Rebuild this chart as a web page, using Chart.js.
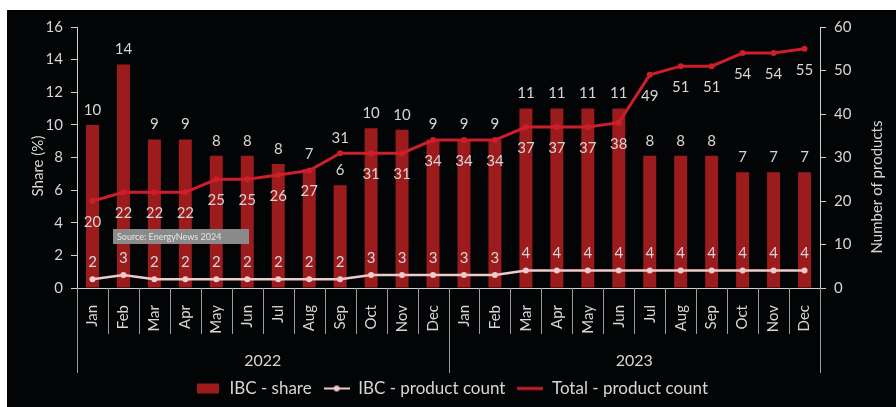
<!DOCTYPE html>
<html>
<head>
<meta charset="utf-8">
<script src="https://cdn.jsdelivr.net/npm/chart.js@4/dist/chart.umd.min.js"></script>
<style>
  html, body { margin: 0; padding: 0; background: #fff; }
  #wrap { position: absolute; left: 7px; top: 10px; width: 889px; height: 397px; background: #030405; }
</style>
</head>
<body>
<div id="wrap"><canvas id="chart"></canvas></div>
<script>
// ---- data ----
const months = ['Jan', 'Feb', 'Mar', 'Apr', 'May', 'Jun', 'Jul', 'Aug', 'Sep', 'Oct', 'Nov', 'Dec',
                'Jan', 'Feb', 'Mar', 'Apr', 'May', 'Jun', 'Jul', 'Aug', 'Sep', 'Oct', 'Nov', 'Dec'];
const years = ['2022', '2023'];
const ibcShare = [10.0, 13.7, 9.1, 9.1, 8.1, 8.1, 7.6, 7.3, 6.3, 9.8, 9.7, 9.1,
                  9.1, 9.1, 11.0, 11.0, 11.0, 11.0, 8.1, 8.1, 8.1, 7.1, 7.1, 7.1];
const ibcCount = [2, 3, 2, 2, 2, 2, 2, 2, 2, 3, 3, 3,
                  3, 3, 4, 4, 4, 4, 4, 4, 4, 4, 4, 4];
const totalCount = [20, 22, 22, 22, 25, 25, 26, 27, 31, 31, 31, 34,
                    34, 34, 37, 37, 37, 38, 49, 51, 51, 54, 54, 55];
const shareTicks = [0, 16, 2];   // min, max, step
const countTicks = [0, 60, 10];
const totalLabelAbove = [8];     // Sep 2022 label sits above the line
const sourceNote = 'Source: EnergyNews 2024';

// colours
const TEXT = '#d6d6d6';
const BAR_RED = '#9c1b1d';
const LINE_RED = '#cc1f2b';
const LINE_PINK = '#efcaca';
const FONT = 'Lato, "Open Sans", sans-serif';

// small legend symbols
function legendSymbol(draw) {
    let c = document.createElement('canvas');
    c.width = 26; c.height = 12;
    draw(c.getContext('2d'));
    return c;
}
const symShare = legendSymbol(g => { g.fillStyle = BAR_RED; g.fillRect(2, 1, 22, 10); });
const symIbc = legendSymbol(g => {
    g.strokeStyle = LINE_PINK; g.lineWidth = 2;
    g.beginPath(); g.moveTo(0, 6); g.lineTo(26, 6); g.stroke();
    g.fillStyle = LINE_PINK; g.beginPath(); g.arc(13, 6, 3, 0, Math.PI * 2); g.fill();
});
const symTotal = legendSymbol(g => {
    g.strokeStyle = LINE_RED; g.lineWidth = 3;
    g.beginPath(); g.moveTo(0, 6); g.lineTo(26, 6); g.stroke();
});

// --------------- extra drawing: labels, separators, titles ---------------
const extras = {
    id: 'extras',
    afterDatasetsDraw(chart) {
        let ctx = chart.ctx;
        let area = chart.chartArea;
        ctx.save();
        // source note box
        ctx.fillStyle = '#8a8a8a';
        ctx.fillRect(area.left + 36, area.top + 202, 136, 15);
        ctx.fillStyle = '#e6e6e6';
        ctx.font = '9px ' + FONT;
        ctx.textAlign = 'left';
        ctx.textBaseline = 'middle';
        ctx.fillText(sourceNote, area.left + 40, area.top + 210);

        // data labels
        ctx.font = '15px ' + FONT;
        ctx.fillStyle = TEXT;
        ctx.textAlign = 'center';
        chart.data.datasets.forEach((ds, i) => {
            let meta = chart.getDatasetMeta(i);
            meta.data.forEach((el, j) => {
                let y;
                if (ds.type === 'bar') {
                    y = el.y - 15;
                } else if (ds.label === 'IBC - product count') {
                    y = el.y - 17;
                } else {
                    y = totalLabelAbove.includes(j) ? el.y - 15 : el.y + 21;
                }
                ctx.fillText(String(Math.round(ds.data[j])), el.x, y);
            });
        });
        ctx.restore();
    },
    afterDraw(chart) {
        let ctx = chart.ctx;
        let area = chart.chartArea;
        let xs = chart.scales.x;
        let n = months.length;
        let step = (xs.right - xs.left) / n;
        ctx.save();
        ctx.strokeStyle = '#9c9c9c';
        ctx.lineWidth = 1;
        for (let i = 0; i <= n; i++) {
            let x = Math.round(xs.left + i * step) + 0.5;
            let len = (i % 12 === 0) ? 85 : 46;
            ctx.beginPath();
            ctx.moveTo(x, xs.top);
            ctx.lineTo(x, xs.top + len);
            ctx.stroke();
        }
        // year group labels
        ctx.fillStyle = TEXT;
        ctx.font = '16px ' + FONT;
        ctx.textAlign = 'center';
        ctx.textBaseline = 'middle';
        years.forEach((yr, k) => {
            let cx = xs.left + (k * 12 + 6) * step;
            ctx.fillText(yr, cx, xs.top + 73);
        });
        // axis titles
        ctx.font = '15px ' + FONT;
        ctx.save();
        ctx.translate(area.left - 39, area.top + 139);
        ctx.rotate(-Math.PI / 2);
        ctx.fillText('Share (%)', 0, 0);
        ctx.restore();
        ctx.save();
        ctx.translate(area.right + 57, area.top + 160);
        ctx.rotate(-Math.PI / 2);
        ctx.fillText('Number of products', 0, 0);
        ctx.restore();
        ctx.restore();
    }
};

Chart.defaults.font.family = FONT;
Chart.defaults.color = TEXT;

let ctx = document.getElementById('chart');
let chart = new Chart(ctx, {
    type: 'bar',
    data: {
        labels: months,
        datasets: [
            {
                type: 'bar',
                label: 'IBC - share',
                data: ibcShare,
                backgroundColor: BAR_RED,
                yAxisID: 'y',
                categoryPercentage: 1,
                barPercentage: 0.42,
                order: 3
            },
            {
                type: 'line',
                label: 'IBC - product count',
                data: ibcCount,
                borderColor: LINE_PINK,
                backgroundColor: LINE_PINK,
                borderWidth: 2.5,
                pointRadius: 3,
                pointBorderWidth: 0,
                tension: 0,
                yAxisID: 'y1',
                order: 1
            },
            {
                type: 'line',
                label: 'Total - product count',
                data: totalCount,
                borderColor: LINE_RED,
                backgroundColor: LINE_RED,
                borderWidth: 3,
                pointRadius: 3,
                pointBorderWidth: 0,
                tension: 0,
                yAxisID: 'y1',
                order: 2
            }
        ]
    },
    options: {
        responsive: true,
        maintainAspectRatio: false,
        animation: false,
        layout: { padding: { top: 14, bottom: 0, left: 0, right: 0 } },
        scales: {
            x: {
                grid: { display: false },
                border: { display: true, color: '#cfcfcf' },
                ticks: {
                    minRotation: 90,
                    maxRotation: 90,
                    padding: 9,
                    font: { size: 15 },
                    color: TEXT,
                    autoSkip: false
                },
                afterFit: function(scale) { scale.height = 80; }
            },
            y: {
                position: 'left',
                min: shareTicks[0],
                max: shareTicks[1],
                ticks: { stepSize: shareTicks[2], font: { size: 15 }, color: TEXT, padding: 8 },
                grid: { drawOnChartArea: false, tickLength: 6, color: '#cfcfcf' },
                border: { display: true, color: '#cfcfcf' },
                afterFit: function(scale) { scale.width = 70; }
            },
            y1: {
                position: 'right',
                min: countTicks[0],
                max: countTicks[1],
                ticks: { stepSize: countTicks[2], font: { size: 15 }, color: TEXT, padding: 8 },
                grid: { drawOnChartArea: false, tickLength: 6, color: '#cfcfcf' },
                border: { display: true, color: '#cfcfcf' },
                afterFit: function(scale) { scale.width = 76; }
            }
        },
        plugins: {
            legend: {
                position: 'bottom',
                labels: {
                    color: TEXT,
                    font: { size: 17 },
                    usePointStyle: true,
                    pointStyleWidth: 26,
                    boxHeight: 12,
                    padding: 12,
                    sort: (a, b) => a.datasetIndex - b.datasetIndex,
                    generateLabels: function(chart) {
                        let items = Chart.defaults.plugins.legend.labels.generateLabels(chart);
                        let syms = [symShare, symIbc, symTotal];
                        items.forEach(it => { it.pointStyle = syms[it.datasetIndex]; });
                        return items;
                    }
                }
            },
            tooltip: { enabled: false }
        }
    },
    plugins: [extras]
});
</script>
</body>
</html>
